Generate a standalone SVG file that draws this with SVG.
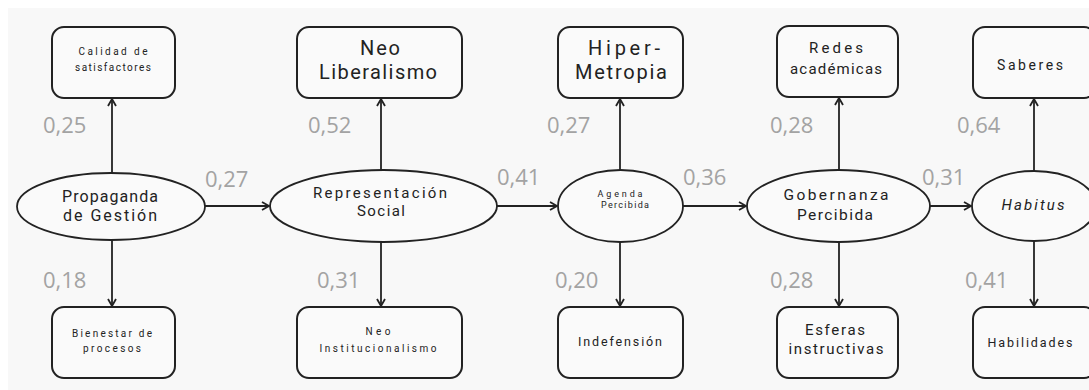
<svg xmlns="http://www.w3.org/2000/svg" width="1089" height="390" viewBox="0 0 1089 390">
<style>
.bg{fill:#f8f8f8}
.box{fill:#fafafa;stroke:#222;stroke-width:2}
.ell{fill:#fafafa;stroke:#222;stroke-width:1.8}
.t{font-family:Roboto,"Liberation Sans",sans-serif;fill:#222;text-anchor:middle}
.lab{font-family:"Open Sans","Liberation Sans",sans-serif;fill:#a3a3a3;font-size:22px}
.con line{stroke:#222;stroke-width:1.8;marker-end:url(#ah)}
</style>
<defs>
<marker id="ah" markerWidth="12" markerHeight="12" refX="9" refY="5" orient="auto" markerUnits="userSpaceOnUse">
<path d="M2,1 L9,5 L2,9" fill="none" stroke="#222" stroke-width="1.8"/>
</marker>
</defs>
<rect x="0" y="0" width="1089" height="390" fill="#ffffff"/>
<rect class="bg" x="8" y="8" width="1081" height="382"/>

<g class="con">
<line x1="112" y1="173" x2="112" y2="99"/>
<line x1="112" y1="240" x2="112" y2="306"/>
<line x1="205" y1="206" x2="269" y2="206"/>
<line x1="381" y1="170" x2="381" y2="99"/>
<line x1="381" y1="242" x2="381" y2="306"/>
<line x1="497" y1="206" x2="557" y2="206"/>
<line x1="620" y1="170" x2="620" y2="99"/>
<line x1="620" y1="242" x2="620" y2="306"/>
<line x1="683" y1="206" x2="746" y2="206"/>
<line x1="839" y1="170" x2="839" y2="98"/>
<line x1="839" y1="242" x2="839" y2="306"/>
<line x1="930" y1="206" x2="971" y2="206"/>
<line x1="1034" y1="171" x2="1034" y2="99"/>
<line x1="1034" y1="241" x2="1034" y2="306"/>
</g>

<g id="labels">
<text class="lab" x="43" y="133">0,25</text>
<text class="lab" x="43" y="288">0,18</text>
<text class="lab" x="205" y="187">0,27</text>
<text class="lab" x="308" y="133">0,52</text>
<text class="lab" x="317" y="288">0,31</text>
<text class="lab" x="497" y="185">0,41</text>
<text class="lab" x="547" y="133">0,27</text>
<text class="lab" x="555" y="288">0,20</text>
<text class="lab" x="683" y="185">0,36</text>
<text class="lab" x="770" y="133">0,28</text>
<text class="lab" x="770" y="288">0,28</text>
<text class="lab" x="922" y="185">0,31</text>
<text class="lab" x="957" y="133">0,64</text>
<text class="lab" x="965" y="288">0,41</text>
</g>

<g id="n-calidad">
<rect class="box" x="52" y="27" width="123" height="71" rx="12"/>
<text class="t" font-size="10"><tspan x="113" y="55" textLength="69" lengthAdjust="spacing">Calidad de</tspan><tspan x="113" y="71" textLength="76" lengthAdjust="spacing">satisfactores</tspan></text>
</g>
<g id="n-propaganda">
<ellipse class="ell" cx="111" cy="206.5" rx="94" ry="33.5"/>
<text class="t" font-size="16"><tspan x="110" y="202" textLength="96" lengthAdjust="spacing">Propaganda</tspan><tspan x="110" y="221" textLength="94" lengthAdjust="spacing">de Gestión</tspan></text>
</g>
<g id="n-bienestar">
<rect class="box" x="52" y="307" width="123" height="71" rx="12"/>
<text class="t" font-size="10"><tspan x="112" y="337" textLength="80" lengthAdjust="spacing">Bienestar de</tspan><tspan x="112" y="352" textLength="58" lengthAdjust="spacing">procesos</tspan></text>
</g>

<g id="n-neoliberalismo">
<rect class="box" x="297" y="27" width="165" height="71" rx="12"/>
<text class="t" font-size="20"><tspan x="380" y="55" textLength="40" lengthAdjust="spacing">Neo</tspan><tspan x="378" y="79" textLength="118" lengthAdjust="spacing">Liberalismo</tspan></text>
</g>
<g id="n-representacion">
<ellipse class="ell" cx="383.5" cy="206" rx="113.5" ry="36"/>
<text class="t" font-size="15"><tspan x="380" y="198" textLength="134" lengthAdjust="spacing">Representación</tspan><tspan x="381" y="216" textLength="48" lengthAdjust="spacing">Social</tspan></text>
</g>
<g id="n-neoinst">
<rect class="box" x="297" y="307" width="165" height="71" rx="12"/>
<text class="t" font-size="10"><tspan x="378" y="335" textLength="25" lengthAdjust="spacing">Neo</tspan><tspan x="378" y="352" textLength="117" lengthAdjust="spacing">Institucionalismo</tspan></text>
</g>

<g id="n-hiper">
<rect class="box" x="558" y="27" width="125" height="71" rx="12"/>
<text class="t" font-size="20"><tspan x="624" y="55" textLength="72" lengthAdjust="spacing">Hiper-</tspan><tspan x="621" y="79" textLength="92" lengthAdjust="spacing">Metropia</tspan></text>
</g>
<g id="n-agenda">
<ellipse class="ell" cx="620.5" cy="206" rx="62.5" ry="36"/>
<text class="t" font-size="9"><tspan x="620" y="197" textLength="45" lengthAdjust="spacing">Agenda</tspan><tspan x="625" y="208" textLength="48" lengthAdjust="spacing">Percibida</tspan></text>
</g>
<g id="n-indefension">
<rect class="box" x="558" y="307" width="125" height="71" rx="12"/>
<text class="t" x="620" y="346" font-size="12.5" textLength="84" lengthAdjust="spacing">Indefensión</text>
</g>

<g id="n-redes">
<rect class="box" x="777" y="26" width="121" height="71" rx="12"/>
<text class="t" font-size="15"><tspan x="836" y="53" textLength="54" lengthAdjust="spacing">Redes</tspan><tspan x="836" y="74" textLength="92" lengthAdjust="spacing">académicas</tspan></text>
</g>
<g id="n-gobernanza">
<ellipse class="ell" cx="838.5" cy="206" rx="91.5" ry="36"/>
<text class="t" font-size="15.5"><tspan x="836" y="200" textLength="105" lengthAdjust="spacing">Gobernanza</tspan><tspan x="835" y="220" textLength="76" lengthAdjust="spacing">Percibida</tspan></text>
</g>
<g id="n-esferas">
<rect class="box" x="777" y="307" width="121" height="71" rx="12"/>
<text class="t" font-size="15"><tspan x="835" y="335" textLength="60" lengthAdjust="spacing">Esferas</tspan><tspan x="836" y="354" textLength="95" lengthAdjust="spacing">instructivas</tspan></text>
</g>

<g id="n-saberes">
<rect class="box" x="973" y="27" width="123" height="71" rx="12"/>
<text class="t" x="1030" y="70" font-size="14" textLength="66" lengthAdjust="spacing">Saberes</text>
</g>
<g id="n-habitus">
<ellipse class="ell" cx="1034" cy="206" rx="62" ry="35"/>
<text class="t" x="1033" y="210" font-size="15" font-style="italic" textLength="63" lengthAdjust="spacing">Habitus</text>
</g>
<g id="n-habilidades">
<rect class="box" x="973" y="307" width="123" height="71" rx="12"/>
<text class="t" x="1030" y="347" font-size="12.5" textLength="85" lengthAdjust="spacing">Habilidades</text>
</g>
</svg>
